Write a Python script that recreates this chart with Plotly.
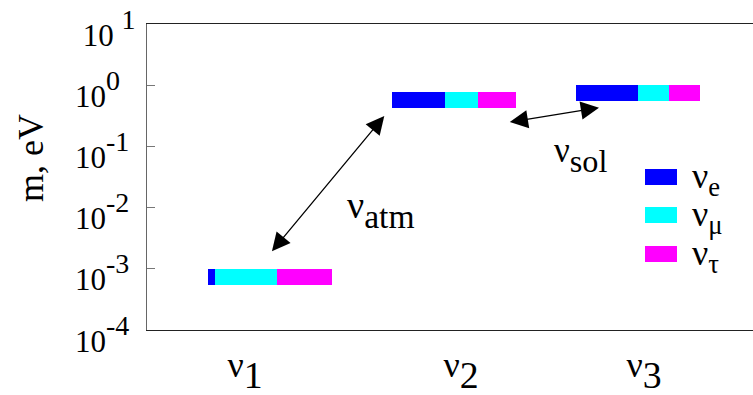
import math
import plotly.graph_objects as go

# Neutrino mass eigenstates and their masses (eV)
states = ["ν1", "ν2", "ν3"]
masses = [1.0e-3, 0.76, 1.0]

# Flavour content of each mass eigenstate
flavours = ["e", "μ", "τ"]
frac_e = [0.06, 0.43, 0.50]
frac_mu = [0.50, 0.26, 0.25]
frac_tau = [0.44, 0.31, 0.25]
colors = ["#0000ff", "#00ffff", "#ff00ff"]

# Axis labels
ytick_vals = [1e-4, 1e-3, 1e-2, 1e-1, 1e0, 1e1]
ytick_text = [
    "<span style='font-size:31px'>10</span><sup>-4</sup>",
    "<span style='font-size:31px'>10</span><sup>-3</sup>",
    "<span style='font-size:31px'>10</span><sup>-2</sup>",
    "<span style='font-size:31px'>10</span><sup>-1</sup>",
    "<span style='font-size:31px'>10</span><sup>0</sup>",
    "<span style='font-size:31px'>\u00a010\u00a0</span><sup>1</sup>",
]
xtick_text = [
    "<span style='font-size:36px'>ν</span><sub>1</sub>",
    "<span style='font-size:36px'>ν</span><sub>2</sub>",
    "<span style='font-size:36px'>ν</span><sub>3</sub>",
]

FONT = "Liberation Serif"

# geometry of the level bars (x in units of the state spacing)
bar_left = [0.663, 1.663, 2.663]
bar_len = 0.673
thick_dec = 0.26          # thickness of each level in decades
xlabel_pos = [0.865, 2.038, 3.031]

fig = go.Figure()
fracs = [frac_e, frac_mu, frac_tau]
for k, fl in enumerate(flavours):
    xs, ws, bases, hs = [], [], [], []
    for i in range(len(states)):
        start = bar_left[i] + sum(fracs[j][i] for j in range(k)) * bar_len
        w = fracs[k][i] * bar_len
        top = masses[i]
        bot = top * 10 ** (-thick_dec)
        xs.append(start + w / 2)
        ws.append(w)
        bases.append(bot)
        hs.append(top - bot)
    fig.add_trace(go.Bar(
        x=xs, y=hs, base=bases, width=ws, name="ν" + fl,
        marker=dict(color=colors[k], line=dict(width=0)),
        showlegend=False, hoverinfo="skip",
    ))

W, H = 606.0, 306.0
L, T = 147.0, 24.0


def px(x):
    return (x - L) / W


def py(y):
    return (T + H - y) / H


annotations = []
# y tick labels (left aligned)
for v, t in zip(ytick_vals, ytick_text):
    annotations.append(dict(
        x=px(73), xref="paper", xanchor="left",
        y=math.log10(v), yref="y", yanchor="middle", yshift=-4,
        text=t, showarrow=False, font=dict(family=FONT, size=40, color="black"),
    ))

# y axis title
annotations.append(dict(
    x=px(31), y=py(158), xref="paper", yref="paper",
    xanchor="center", yanchor="middle",
    text="m, eV", textangle=-90, showarrow=False,
    font=dict(family=FONT, size=36, color="black"),
))

# oscillation arrows
arrow_style = dict(
    text="", showarrow=True, arrowhead=2, startarrowhead=2, arrowside="end+start",
    arrowsize=2.8, startarrowsize=2.8, arrowwidth=1.3, arrowcolor="black",
    xref="paper", yref="paper", axref="pixel", ayref="pixel", standoff=0, startstandoff=0,
)
annotations.append(dict(x=px(384.3), y=py(116), ax=270.7 - 384.3, ay=252.7 - 116, **arrow_style))
annotations.append(dict(x=px(599), y=py(107.7), ax=508.3 - 599, ay=122.3 - 107.7, **arrow_style))

# arrow labels
annotations.append(dict(
    x=px(345), y=py(209), xref="paper", yref="paper", xanchor="left", yanchor="middle",
    text="<span style='font-size:38px'>ν</span><sub>atm</sub>", showarrow=False,
    font=dict(family=FONT, size=48, color="black"),
))
annotations.append(dict(
    x=px(552), y=py(155), xref="paper", yref="paper", xanchor="left", yanchor="middle",
    text="<span style='font-size:35px'>ν</span><sub>sol</sub>", showarrow=False,
    font=dict(family=FONT, size=46, color="black"),
))

# legend
shapes = []
leg_y = [177, 215, 254]
for k, fl in enumerate(flavours):
    shapes.append(dict(
        type="rect", xref="paper", yref="paper",
        x0=px(645), x1=px(677), y0=py(leg_y[k] + 8), y1=py(leg_y[k] - 8),
        fillcolor=colors[k], line=dict(width=0),
    ))
    annotations.append(dict(
        x=px(690), y=py(leg_y[k] + 2), xref="paper", yref="paper",
        xanchor="left", yanchor="middle",
        text="<span style='font-size:36px'>ν</span><sub>" + fl + "</sub>",
        showarrow=False, font=dict(family=FONT, size=38, color="black"),
    ))

fig.update_layout(
    width=753, height=395,
    margin=dict(l=147, r=0, t=24, b=65, autoexpand=False),
    paper_bgcolor="white", plot_bgcolor="white",
    barmode="overlay", bargap=0,
    showlegend=False,
    annotations=annotations, shapes=shapes,
    font=dict(family=FONT, color="black"),
)
fig.update_xaxes(
    range=[0.333, 0.333 + W / 184.2],
    showline=True, mirror=True, linecolor="#222", linewidth=1.2,
    showgrid=False, zeroline=False, ticks="",
    tickvals=xlabel_pos, ticktext=xtick_text,
    tickfont=dict(family=FONT, size=54, color="black"),
    ticklabelstandoff=-19, automargin=False,
)
fig.update_yaxes(
    type="log", range=[-4, 1],
    showline=True, linecolor="#666", linewidth=1,
    showgrid=False, zeroline=False,
    ticks="inside", ticklen=8, tickcolor="#777", tickwidth=1,
    tickvals=ytick_vals, showticklabels=False, automargin=False,
)

fig.write_html("out.html")
